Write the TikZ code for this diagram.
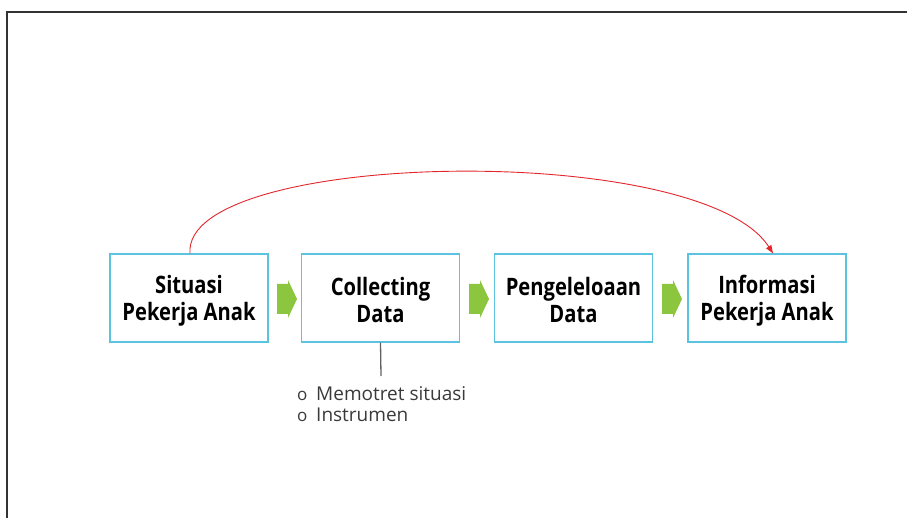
\documentclass[tikz,border=0pt]{standalone}
\usepackage{fontspec}
\setmainfont{Open Sans}
\newfontfamily\boxfont[FakeStretch=0.84]{Open Sans}
\usetikzlibrary{arrows.meta}
\definecolor{boxblue}{HTML}{5BC3E0}
\definecolor{arrgreen}{HTML}{8CC63F}
\definecolor{curvered}{HTML}{E3262B}
\definecolor{txtgray}{HTML}{3A3A3A}
\tikzset{
  stepbox/.style={draw=boxblue, line width=1.3pt, fill=white, minimum width=158pt, minimum height=88pt,
    inner sep=0pt, align=center, font=\boxfont\fontsize{24}{27}\selectfont\bfseries, text=black},
  garrow/.style={fill=arrgreen, draw=none},
  bullettext/.style={anchor=base west, inner sep=0pt, font=\fontsize{19}{21}\selectfont, text=txtgray},
  bulletmark/.style={anchor=base west, inner sep=0pt, font=\fontsize{17}{17}\selectfont, text=txtgray}
}
\begin{document}
\begin{tikzpicture}[x=1pt,y=-1pt]
\useasboundingbox (0,0) rectangle (907,518);
% frame
\draw[line width=2pt, color=black!80] (7,518) -- (7,12) -- (907,12);
% boxes
\node[stepbox] (b1) at (189,298) {\rule{0pt}{23pt}Situasi\\Pekerja Anak};
\node[stepbox] (b2) at (380.5,298) {\rule{0pt}{23pt}Collecting\\Data};
\node[stepbox] (b3) at (573.5,298) {\rule{0pt}{23pt}Pengeleloaan\\Data};
\node[stepbox] (b4) at (767,298) {\rule{0pt}{23pt}Informasi\\Pekerja Anak};
% green block arrows
\foreach \xa in {277,469,662} {
  \fill[garrow] (\xa,284) -- (\xa+11,284) -- (\xa+11,280) -- (\xa+20,299) -- (\xa+11,318) -- (\xa+11,314) -- (\xa,314) -- cycle;
}
% red curve
\coordinate (cs) at ([xshift=1pt]b1.north);
\coordinate (ce) at ([xshift=6pt]b4.north);
\draw[curvered, line width=0.9pt, -{Triangle[length=8pt,width=6pt]}]
  (cs) .. controls (182,150) and (700,140) .. (ce);
% gray connector
\coordinate (gl) at (381,376);
\draw[txtgray!80, line width=1.3pt] (b2.south) -- (gl);
% bullets
\node[bulletmark] (o1) at (297,400) {o};
\node[bulletmark] (o2) at (297,421) {o};
\node[bullettext] (m1) at (316,400) {Memotret situasi};
\node[bullettext] (m2) at (316,421) {Instrumen};
\end{tikzpicture}
\end{document}
